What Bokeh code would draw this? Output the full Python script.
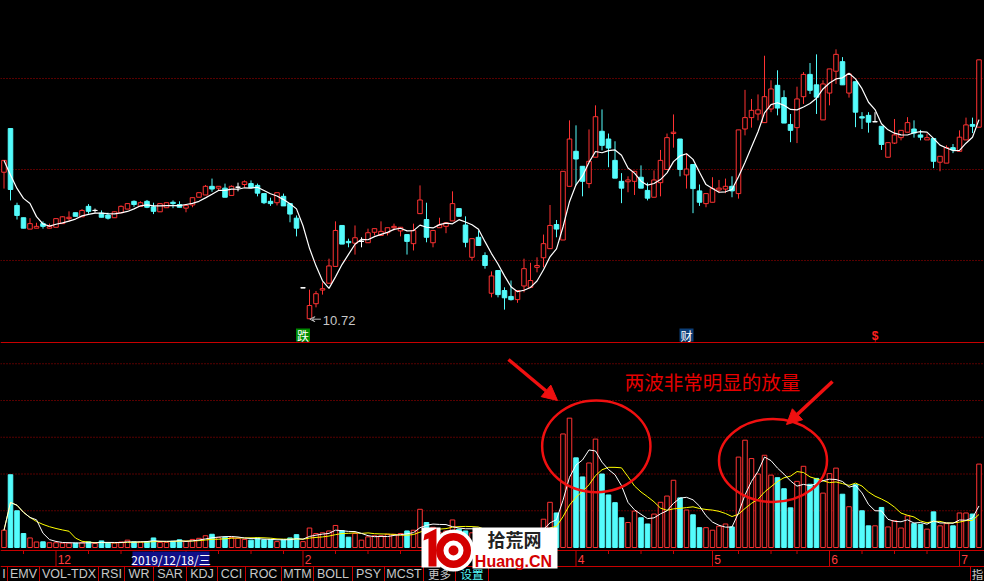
import numpy as np
import pandas as pd
from bokeh.plotting import figure
from bokeh.models import Range1d, ColumnDataSource, Arrow, NormalHead, VeeHead
from bokeh.core.properties import value
from bokeh.embed import file_html
from bokeh.resources import INLINE

# ---------------- data ----------------
opens = [13.94, 14.90, 13.21, 12.94, 12.69, 12.71, 12.81, 12.71, 12.73, 12.81,
         12.92, 13.05, 12.96, 13.19, 13.10, 13.04, 13.00, 12.94, 13.05, 13.13,
         13.30, 13.19, 13.30, 13.18, 13.07, 13.16, 13.28, 13.23, 13.15, 13.22,
         13.39, 13.44, 13.63, 13.59, 13.59, 13.43, 13.61, 13.67, 13.69, 13.65,
         13.47, 13.30, 13.27, 13.41, 13.25, 12.93, 11.40, 10.72, 11.05, 11.35,
         11.50, 11.87, 12.77, 12.42, 12.38, 12.42, 12.39, 12.62, 12.55, 12.61,
         12.72, 12.65, 12.57, 12.37, 13.03, 12.90, 12.39, 12.72, 12.75, 12.87,
         13.14, 12.78, 12.07, 12.51, 12.11, 11.28, 11.78, 11.34, 11.21, 11.14,
         11.44, 11.41, 11.85, 12.06, 12.26, 12.79, 12.45, 13.63, 14.40, 14.07,
         13.69, 14.27, 14.84, 14.67, 14.20, 13.74, 13.73, 13.74, 13.83, 13.54,
         13.39, 13.71, 14.00, 14.79, 14.67, 13.88, 14.11, 13.53, 13.25, 13.28,
         13.55, 13.57, 13.63, 13.47, 14.89, 15.14, 15.22, 15.03, 15.33, 15.85,
         15.58, 14.99, 14.92, 15.60, 16.09, 15.86, 15.09, 15.68, 16.16, 16.37,
         15.68, 15.93, 15.16, 15.19, 15.05, 14.95, 14.27, 14.58, 14.70, 14.82,
         14.89, 14.76, 14.65, 14.68, 14.16, 14.14, 14.48, 14.40, 14.65, 14.99,
         14.93]
highs = [14.20, 14.90, 13.27, 12.94, 12.93, 12.83, 12.86, 12.81, 12.92, 12.97,
         13.08, 13.05, 13.13, 13.24, 13.14, 13.10, 13.05, 13.08, 13.21, 13.26,
         13.32, 13.30, 13.33, 13.27, 13.25, 13.27, 13.32, 13.30, 13.21, 13.38,
         13.49, 13.66, 13.80, 13.63, 13.69, 13.65, 13.71, 13.76, 13.76, 13.69,
         13.47, 13.38, 13.49, 13.47, 13.25, 12.99, 11.40, 11.36, 11.33, 11.52,
         12.04, 12.86, 12.77, 12.48, 12.77, 12.51, 12.70, 12.70, 12.86, 12.72,
         12.81, 12.73, 12.57, 12.81, 13.65, 13.27, 12.66, 12.94, 12.83, 13.52,
         13.14, 12.97, 12.48, 12.66, 12.18, 11.76, 11.78, 11.41, 11.56, 11.34,
         12.04, 11.95, 12.07, 12.57, 13.22, 12.89, 13.96, 15.08, 14.97, 14.07,
         14.88, 15.41, 15.32, 14.79, 14.62, 13.92, 13.85, 13.96, 14.09, 13.71,
         13.98, 14.43, 14.79, 15.21, 14.67, 14.35, 14.11, 13.67, 13.47, 13.83,
         13.77, 13.80, 13.85, 14.87, 15.75, 15.55, 15.65, 16.50, 15.96, 16.18,
         15.74, 15.22, 15.82, 16.14, 16.34, 16.53, 15.96, 16.21, 16.64, 16.47,
         16.10, 15.93, 15.26, 15.26, 15.26, 14.95, 14.59, 15.11, 14.86, 15.15,
         15.08, 14.87, 14.79, 14.68, 14.29, 14.53, 14.56, 14.86, 15.14, 15.14,
         16.41]
lows = [13.58, 13.32, 12.90, 12.71, 12.69, 12.71, 12.70, 12.71, 12.73, 12.81,
        12.86, 12.97, 12.96, 13.03, 13.05, 12.95, 12.90, 12.94, 13.05, 13.13,
        13.18, 13.19, 13.15, 13.02, 13.07, 13.16, 13.15, 13.17, 13.06, 13.17,
        13.39, 13.44, 13.51, 13.54, 13.39, 13.43, 13.52, 13.61, 13.60, 13.41,
        13.24, 13.20, 13.21, 13.20, 12.84, 12.53, 11.40, 10.72, 10.97, 11.25,
        11.50, 11.87, 12.36, 12.29, 12.13, 12.29, 12.39, 12.55, 12.55, 12.55,
        12.66, 12.53, 12.13, 12.22, 13.03, 12.40, 12.29, 12.72, 12.60, 12.87,
        12.97, 12.29, 12.00, 12.33, 11.82, 11.19, 11.19, 10.92, 11.12, 11.07,
        11.30, 11.41, 11.74, 11.85, 12.26, 12.51, 12.45, 13.63, 13.65, 13.41,
        13.59, 14.27, 14.42, 14.05, 13.81, 13.26, 13.50, 13.44, 13.59, 13.32,
        13.39, 13.41, 14.00, 14.48, 13.85, 13.58, 13.04, 13.20, 13.17, 13.28,
        13.48, 13.48, 13.39, 13.36, 14.75, 14.92, 15.08, 15.03, 15.26, 15.19,
        15.02, 14.60, 14.58, 15.44, 15.66, 15.22, 15.09, 15.41, 15.88, 15.86,
        15.58, 14.93, 14.89, 14.81, 15.05, 14.43, 14.27, 14.56, 14.64, 14.82,
        14.70, 14.64, 14.65, 14.03, 13.96, 14.14, 14.36, 14.40, 14.65, 14.80,
        14.93]
closes = [14.20, 13.56, 12.99, 12.71, 12.81, 12.75, 12.75, 12.75, 12.92, 12.96,
          12.95, 12.97, 13.10, 13.08, 13.10, 12.95, 12.93, 13.07, 13.19, 13.25,
          13.23, 13.27, 13.17, 13.08, 13.25, 13.27, 13.25, 13.17, 13.21, 13.38,
          13.49, 13.63, 13.57, 13.63, 13.39, 13.63, 13.61, 13.73, 13.60, 13.48,
          13.27, 13.25, 13.49, 13.20, 13.02, 12.71, 11.40, 11.01, 11.27, 11.38,
          11.88, 12.66, 12.36, 12.39, 12.50, 12.42, 12.61, 12.70, 12.64, 12.72,
          12.75, 12.73, 12.42, 12.66, 13.33, 12.51, 12.66, 12.78, 12.83, 13.25,
          12.97, 12.40, 12.48, 12.33, 11.89, 11.66, 11.25, 11.18, 11.14, 11.34,
          11.82, 11.56, 11.89, 12.37, 12.77, 12.69, 13.96, 14.67, 14.23, 13.74,
          14.18, 15.16, 14.53, 14.47, 13.81, 13.59, 13.77, 13.96, 13.59, 13.37,
          13.77, 14.20, 14.70, 14.82, 14.00, 14.01, 13.58, 13.28, 13.47, 13.58,
          13.59, 13.63, 13.53, 14.87, 15.14, 15.30, 15.31, 15.60, 15.77, 15.35,
          15.02, 14.86, 15.55, 16.09, 15.74, 15.59, 15.88, 16.21, 16.53, 15.86,
          16.10, 15.26, 15.13, 15.04, 15.05, 14.55, 14.59, 14.76, 14.86, 15.03,
          14.80, 14.71, 14.70, 14.18, 14.29, 14.48, 14.43, 14.71, 14.98, 14.95,
          16.41]
volumes = [0.47, 1.98, 1.00, 0.38, 0.26, 0.15, 0.155, 0.13, 0.13, 0.12,
           0.12, 0.12, 0.13, 0.155, 0.11, 0.18, 0.12, 0.12, 0.15, 0.20,
           0.155, 0.15, 0.155, 0.26, 0.14, 0.14, 0.17, 0.21, 0.17, 0.22,
           0.25, 0.32, 0.36, 0.27, 0.28, 0.27, 0.25, 0.22, 0.20, 0.26,
           0.21, 0.22, 0.16, 0.21, 0.26, 0.35, 0.16, 0.53, 0.38, 0.40,
           0.45, 0.60, 0.46, 0.28, 0.38, 0.20, 0.29, 0.32, 0.32, 0.36,
           0.36, 0.38, 0.45, 0.47, 1.04, 0.68, 0.55, 0.40, 0.45, 0.75,
           0.50, 0.45, 0.40, 0.35, 0.40, 0.45, 0.50, 0.35, 0.30, 0.35,
           0.50, 0.45, 0.40, 0.77, 1.23, 0.94, 3.09, 3.52, 2.44, 1.92,
           2.30, 2.95, 2.00, 1.43, 1.22, 0.81, 0.68, 0.99, 0.81, 0.64,
           0.91, 1.23, 1.40, 1.83, 1.35, 1.02, 0.89, 0.54, 0.54, 0.47,
           0.58, 0.64, 0.56, 2.46, 2.92, 2.42, 2.00, 2.51, 1.97, 1.90,
           1.60, 1.08, 1.80, 2.21, 1.72, 1.88, 1.48, 2.01, 2.16, 1.45,
           1.11, 1.71, 1.00, 0.59, 0.59, 1.09, 0.56, 0.73, 0.53, 0.86,
           0.65, 0.63, 0.50, 0.97, 0.59, 0.65, 0.59, 0.94, 0.94, 0.91,
           2.27]

price_grid = [12, 14, 16]
volume_grid = [1, 2, 3, 4, 5]
month_labels = ["12", "2", "4", "5", "6", "7"]
month_start_idx = [8, 46, 88, 109, 127, 147]
week_tick_idx = [3, 13, 18, 23, 28, 33, 38, 43, 51, 56, 61, 71, 76, 81,
                 93, 98, 103, 113, 118, 122, 132, 137, 142]
cursor_date = "2019/12/18/三"
low_label = "10.72"
low_idx = 47
signal_idx = [46, 105, 134]
signal_text = ["跌", "财", "$"]
tab_labels = ["I", "EMV", "VOL-TDX", "RSI", "WR", "SAR", "KDJ", "CCI", "ROC",
              "MTM", "BOLL", "PSY", "MCST", "更多", "设置"]
note_text = "两波非常明显的放量"

# ---------------- derived ----------------
o = np.array(opens); h = np.array(highs); l = np.array(lows); c = np.array(closes)
v = np.array(volumes)
n = len(c)
idx = np.arange(n)
ma_price = pd.Series(c).rolling(5, min_periods=1).mean().values
ma_v5 = pd.Series(v).rolling(5, min_periods=1).mean().values
ma_v10 = pd.Series(v).rolling(10, min_periods=1).mean().values

RED = "#ff3232"
CYAN = "#54fcfc"
WHITE = "#ffffff"
LINE_RED = "#c80000"
GRID_RED = "#b00000"
NOTE_RED = "#e60000"
LATIN = value("Liberation Sans")
CJK = value("Noto Sans CJK SC")

up = c > o
dn = c < o
col = np.where(up, RED, np.where(dn, CYAN, WHITE))
fill = np.where(dn, CYAN, "#000000")
csrc = ColumnDataSource(dict(x=idx, top=np.maximum(o, c), bottom=np.minimum(o, c),
                             high=h, low=l, col=col, fill=fill))
vcol = np.where(dn, CYAN, RED)
vsrc = ColumnDataSource(dict(x=idx, top=v, col=vcol, fill=fill))

# ---------------- figure ----------------
p = figure(width=984, height=581,
           x_range=Range1d(-0.5385, 150.846), y_range=Range1d(4.945, 17.714),
           x_axis_type=None, y_axis_type=None,
           output_backend="svg", toolbar_location=None, min_border=0,
           background_fill_color="black", border_fill_color="black",
           outline_line_color=None)
p.extra_y_ranges = {"vol": Range1d(-0.925, 14.884), "px": Range1d(581, 0)}
p.extra_x_ranges = {"px": Range1d(0, 984)}

try:
    from bokeh.models import GlobalInlineStyleSheet
    p.stylesheets = [GlobalInlineStyleSheet(
        css="html, body { background: #000000; margin: 0; overflow: hidden; }")]
except Exception:
    pass

# grids
p.segment(x0=-1, x1=n + 1, y0=price_grid, y1=price_grid,
          line_color=GRID_RED, line_width=1, line_dash="1 2")
p.segment(x0=-1, x1=n + 1, y0=volume_grid, y1=volume_grid, y_range_name="vol",
          line_color=GRID_RED, line_width=1, line_dash="1 2")

# pane separators
p.segment(x0=0, x1=984, y0=[342, 550, 566], y1=[342, 550, 566],
          x_range_name="px", y_range_name="px", line_color=LINE_RED, line_width=1)

# candles
p.segment(x0="x", x1="x", y0="low", y1="high", line_color="col", line_width=1, source=csrc)
p.vbar(x="x", width=0.7, top="top", bottom="bottom", fill_color="fill",
       line_color="col", line_width=1, source=csrc)
eq = ~(up | dn)
p.segment(x0=idx[eq] - 0.35, x1=idx[eq] + 0.35, y0=c[eq], y1=c[eq],
          line_color=WHITE, line_width=1)
p.line(idx, ma_price, line_color=WHITE, line_width=1.2)

# volume
p.vbar(x="x", width=0.7, top="top", bottom=0, fill_color="fill", line_color="col",
       line_width=1, source=vsrc, y_range_name="vol")
p.line(idx, ma_v10, line_color="#ffff00", line_width=1, y_range_name="vol")
p.line(idx, ma_v5, line_color=WHITE, line_width=1, y_range_name="vol")

# low label
p.add_layout(Arrow(end=VeeHead(size=5, line_color="#bdbdbd", line_width=1),
                   x_start=low_idx + 1.75, y_start=l[low_idx] - 0.01,
                   x_end=low_idx + 0.05, y_end=l[low_idx] - 0.01,
                   line_color="#bdbdbd", line_width=1))
p.text(x=[low_idx + 2.05], y=[l[low_idx] - 0.03], text=[low_label],
       text_font=LATIN, text_font_size="13px", text_color="#c8c8c8",
       text_align="left", text_baseline="middle")

# signal markers under the price pane
p.rect(x=signal_idx[:2], y=334.5, width=14, height=13, width_units="screen",
       height_units="screen", y_range_name="px",
       fill_color=["#008a00", "#0c3f78"], line_color=None)
p.text(x=signal_idx[:2], y=335, text=signal_text[:2], y_range_name="px",
       text_font=CJK, text_font_size="12px", text_color="#ffffff",
       text_align="center", text_baseline="middle")
p.text(x=[signal_idx[2]], y=[335], text=[signal_text[2]], y_range_name="px",
       text_font=LATIN, text_font_size="12px", text_font_style="bold",
       text_color="#ff2020", text_align="center", text_baseline="middle")

# date band
p.segment(x0=month_start_idx, x1=month_start_idx, y0=550, y1=566, y_range_name="px",
          line_color=LINE_RED, line_width=1)
p.segment(x0=week_tick_idx, x1=week_tick_idx, y0=550, y1=553.5, y_range_name="px",
          line_color=LINE_RED, line_width=1)
p.text(x=np.array(month_start_idx) + 0.25, y=558.5, text=month_labels, y_range_name="px",
       text_font=LATIN, text_font_size="12px", text_color="#ff3c3c",
       text_align="left", text_baseline="middle")
p.quad(left=[132], right=[209], top=[551], bottom=[565.5],
       x_range_name="px", y_range_name="px", fill_color="#101088", line_color=None)
p.text(x=[170.5], y=[558.5], text=[cursor_date], x_range_name="px", y_range_name="px",
       text_font=CJK, text_font_size="12px", text_color="#ffffff",
       text_align="center", text_baseline="middle")

# tab bar
seps = [7, 39, 98, 124, 153, 186, 217, 245, 281, 313, 352, 384, 423, 455, 488]
p.segment(x0=seps + [970], x1=seps + [970], y0=566, y1=581, x_range_name="px",
          y_range_name="px", line_color=LINE_RED, line_width=1)
edges = [0] + seps
centers = [(edges[k] + edges[k + 1]) / 2 for k in range(len(tab_labels))]
lat = [k for k, t in enumerate(tab_labels) if t.isascii()]
cj = [k for k, t in enumerate(tab_labels) if not t.isascii()]
p.text(x=[centers[k] for k in lat], y=573.5, text=[tab_labels[k] for k in lat],
       x_range_name="px", y_range_name="px", text_font=LATIN, text_font_size="12.5px",
       text_color="#c8c8c8", text_align="center", text_baseline="middle")

# watermark (approximation of the site logo)
p.quad(left=[472], right=[557], top=[527], bottom=[568], x_range_name="px",
       y_range_name="px", fill_color="#ffffff", line_color=None)
p.circle(x=[453], y=[550], radius=21, x_range_name="px", y_range_name="px",
         fill_color="#ffffff", line_color=None)
p.quad(left=[421], right=[440], top=[527], bottom=[567], x_range_name="px",
       y_range_name="px", fill_color="#ffffff", line_color=None)
p.patch(x=[424, 436, 436, 428, 428, 423], y=[534, 528, 566, 566, 538, 540],
        x_range_name="px", y_range_name="px", fill_color="#d40000", line_color=None)
p.annulus(x=[453], y=[550], inner_radius=10, outer_radius=17.5, x_range_name="px",
          y_range_name="px", fill_color="#d40000", line_color=None)
p.circle(x=[453], y=[550], radius=5, x_range_name="px", y_range_name="px",
         fill_color="#d40000", line_color=None)
p.text(x=[514], y=[538.5], text=["拾荒网"], x_range_name="px", y_range_name="px",
       text_font=CJK, text_font_size="18px", text_font_style="bold",
       text_color="#222222", text_align="center", text_baseline="middle")
p.text(x=[513], y=[560.5], text=["Huang.CN"], x_range_name="px", y_range_name="px",
       text_font=LATIN, text_font_size="16px", text_font_style="bold",
       text_color="#d40000", text_align="center", text_baseline="middle")

# tab labels drawn over the watermark's lower edge
p.text(x=[centers[k] for k in cj], y=573.5, text=[tab_labels[k] for k in cj],
       x_range_name="px", y_range_name="px", text_font=CJK, text_font_size="11.5px",
       text_color=["#c8c8c8", "#54fcfc"], text_align="center", text_baseline="middle")
p.text(x=[977], y=[573.5], text=["指"], x_range_name="px", y_range_name="px",
       text_font=CJK, text_font_size="11.5px", text_color="#c8c8c8",
       text_align="center", text_baseline="middle")

# annotations
p.ellipse(x=[595.8, 772.5], y=[445.8, 460], width=[108.3, 108], height=[91.7, 83],
          x_range_name="px", y_range_name="px", fill_color=None,
          line_color="#f01010", line_width=2.5)
for xs, ys, xe, ye in [(508, 359, 557, 400), (832, 381, 786, 424)]:
    p.add_layout(Arrow(end=NormalHead(size=15, fill_color="#f01010", line_color="#f01010"),
                       x_start=xs, y_start=ys, x_end=xe, y_end=ye,
                       x_range_name="px", y_range_name="px",
                       line_color="#f01010", line_width=3.5))
p.text(x=[712], y=[381], text=[note_text], x_range_name="px", y_range_name="px",
       text_font=CJK, text_font_size="19.5px", text_color=NOTE_RED,
       text_align="center", text_baseline="middle")

open("out.html", "w").write(file_html(p, INLINE))
